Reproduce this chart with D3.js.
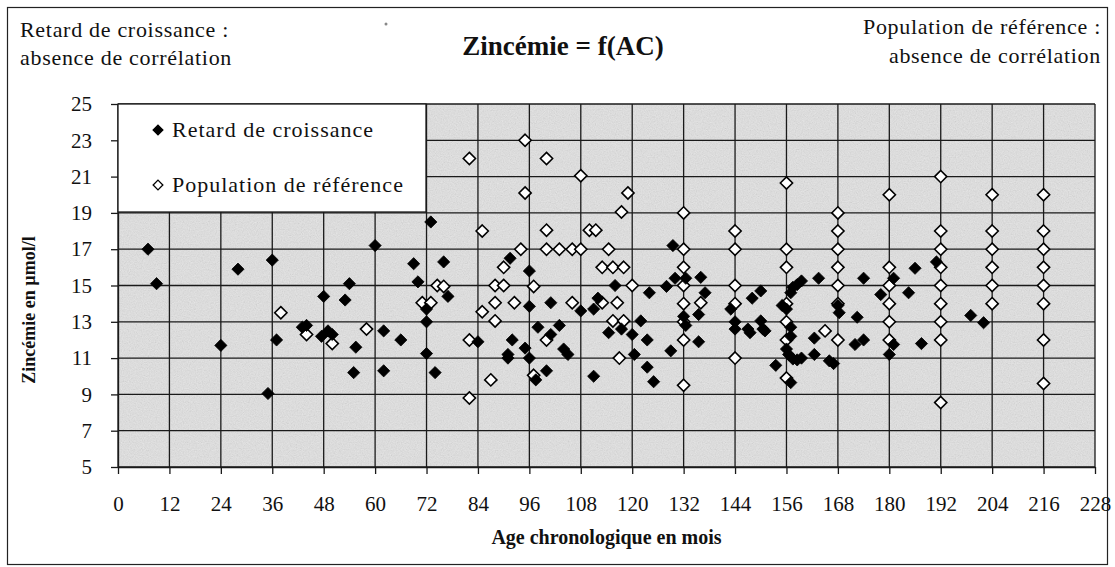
<!DOCTYPE html>
<html>
<head>
<meta charset="utf-8">
<script src="https://cdn.jsdelivr.net/npm/d3@7"></script>
<style>
  body { margin: 0; background: #fff; }
  svg text { font-family: "Liberation Serif", "Times New Roman", serif; fill: #111; }
</style>
</head>
<body>
<div id="chart"></div>
<script>
// growth retardation group (filled diamonds)
var retardAge = [7, 9, 24, 28, 36, 37, 35, 43, 44, 48, 47.5, 49, 50, 53, 54, 55.5, 55,
  60, 62, 62, 66, 69, 70, 72, 72, 72, 73, 74, 76, 77, 84, 91.5, 92, 91, 91, 96, 96, 95, 96, 97.5,
  98, 101, 101, 100, 103, 104, 105, 108, 111, 111, 112,
  116, 114.5, 117.5, 120, 120.5, 122, 123.5, 123.5, 125, 124, 128, 129.5, 129, 130, 132.5, 132, 132.5,
  136, 137, 135.5, 135.5, 143, 144, 144, 147, 147.5, 148, 150, 150, 150.5, 151, 153.5, 155, 156,
  157, 157.5, 158.5, 159.5, 157, 157, 156, 156.5, 157.5, 158.5, 159.5, 157, 162.5, 162.5, 163.5, 166, 167,
  168, 168.3, 174, 172.5, 172, 174, 178, 181, 181, 180, 184.5, 186, 187.5, 191, 199, 202];
var retardZinc = [17, 15.1, 11.7, 15.9, 16.4, 12, 9.05, 12.7, 12.8, 14.4, 12.2, 12.5, 12.3, 14.2, 15.1, 11.6, 10.2,
  17.2, 12.5, 10.3, 12, 16.2, 15.2, 13.7, 13, 11.25, 18.5, 10.2, 16.3, 14.4, 11.9, 16.5, 12, 11.2, 11, 15.8, 13.85, 11.55, 11, 9.8,
  12.7, 14.05, 12.3, 10.3, 12.8, 11.5, 11.2, 13.6, 13.7, 10, 14.3,
  15, 12.4, 12.6, 12.3, 11.2, 13.05, 12, 10.5, 9.7, 14.6, 14.95, 17.2, 11.4, 15.4, 15.4, 13.3, 12.8,
  15.45, 14.6, 13.4, 11.9, 13.7, 13, 12.6, 12.6, 12.4, 14.3, 14.7, 13.05, 12.6, 12.5, 10.6, 13.9, 13.7,
  14.6, 14.9, 15.05, 15.25, 12.7, 12.2, 11.5, 11.2, 10.95, 10.9, 11, 9.65, 12.1, 11.2, 15.4, 10.85, 10.7,
  13.9, 13.5, 15.4, 13.25, 11.75, 12, 14.5, 15.4, 11.75, 11.2, 14.6, 15.95, 11.8, 16.3, 13.35, 12.95];

// reference population (open diamonds)
var refAge = [38, 44, 50, 58, 71, 73, 74.5, 76, 82, 82, 82, 85, 85, 87, 88, 88, 88, 90, 90, 92.5, 94, 95, 95,
  97, 97, 100, 100, 100, 100, 103, 106, 106, 108, 108, 110, 111.5, 113, 115.5, 118, 119, 117.5, 114.5,
  113, 116.5, 115.5, 118, 117, 120,
  132, 132, 132, 132, 132, 132, 132, 132, 136,
  144, 144, 144, 144, 144,
  156, 156, 156, 156, 156, 156, 156, 165,
  168, 168, 168, 168, 168, 168, 168,
  180, 180, 180, 180, 180, 180,
  192, 192, 192, 192, 192, 192, 192, 192, 192,
  204, 204, 204, 204, 204, 204,
  216, 216, 216, 216, 216, 216, 216, 216];
var refZinc = [13.5, 12.3, 11.8, 12.6, 14.05, 14.05, 15, 14.95, 22, 12, 8.8, 18, 13.55, 9.8, 15, 14.05, 13.05, 16, 15, 14.05, 17, 23, 20.1,
  14.95, 10.05, 22, 18.05, 17, 12, 17, 17, 14.05, 21.05, 17, 18.05, 18.05, 16, 16, 16, 20.1, 19.05, 17,
  14.05, 14.05, 13.05, 13.05, 11, 15,
  19, 17, 16, 15, 14, 13, 12, 9.5, 14.05,
  18, 17, 15, 14, 11,
  20.65, 17, 16, 14, 13, 12, 9.9, 12.5,
  19, 18, 17, 16, 15, 14, 12,
  20, 16, 15, 14, 13, 12,
  21, 18, 17, 16, 15, 14, 13, 12, 8.55,
  20, 18, 17, 16, 15, 14,
  20, 18, 17, 16, 15, 14, 12, 9.6];

var xTicks = [0, 12, 24, 36, 48, 60, 72, 84, 96, 108, 120, 132, 144, 156, 168, 180, 192, 204, 216, 228];
var yTicks = [5, 7, 9, 11, 13, 15, 17, 19, 21, 23, 25];
var legendLabels = ["Retard de croissance", "Population de référence"];

var W = 1115, H = 567;
var PLOT = {left: 118, right: 1095, top: 104, bottom: 467};

var svg = d3.select("#chart").append("svg")
  .attr("width", W).attr("height", H)
  .attr("font-family", "'Liberation Serif', serif");

// grain for the scanned grey background
var defs = svg.append("defs");
var grain = defs.append("filter").attr("id", "grain")
  .attr("x", 0).attr("y", 0).attr("width", "100%").attr("height", "100%");
grain.append("feTurbulence").attr("type", "fractalNoise")
  .attr("baseFrequency", 0.85).attr("numOctaves", 2).attr("seed", 4);
grain.append("feColorMatrix").attr("type", "matrix")
  .attr("values", "0.33 0.33 0.33 0 0  0.33 0.33 0.33 0 0  0.33 0.33 0.33 0 0  0 0 0 0 0.24");

// outer frame
svg.append("rect")
  .attr("x", 7.5).attr("y", 7.5).attr("width", 1100).attr("height", 557)
  .attr("fill", "#fff").attr("stroke", "#222").attr("stroke-width", 1.2);

var x = d3.scaleLinear().domain([0, 228]).range([PLOT.left, PLOT.right]);
var y = d3.scaleLinear().domain([5, 25]).range([PLOT.bottom, PLOT.top]);

var g = svg.append("g");

g.append("rect")
  .attr("x", PLOT.left).attr("y", PLOT.top)
  .attr("width", PLOT.right - PLOT.left).attr("height", PLOT.bottom - PLOT.top)
  .attr("fill", "#e6e6e6");
g.append("rect")
  .attr("x", PLOT.left).attr("y", PLOT.top)
  .attr("width", PLOT.right - PLOT.left).attr("height", PLOT.bottom - PLOT.top)
  .attr("filter", "url(#grain)");

// grid
g.selectAll(".vgrid").data(xTicks).enter().append("line")
  .attr("class", "vgrid")
  .attr("x1", function(d) { return x(d); }).attr("x2", function(d) { return x(d); })
  .attr("y1", PLOT.top).attr("y2", PLOT.bottom)
  .attr("stroke", "#1a1a1a").attr("stroke-width", 1.3);
g.selectAll(".hgrid").data(yTicks).enter().append("line")
  .attr("class", "hgrid")
  .attr("x1", PLOT.left).attr("x2", PLOT.right)
  .attr("y1", function(d) { return y(d); }).attr("y2", function(d) { return y(d); })
  .attr("stroke", "#1a1a1a").attr("stroke-width", 1.3);

// axes
var xAxis = g.append("g")
  .attr("transform", "translate(0," + PLOT.bottom + ")")
  .call(d3.axisBottom(x).tickValues(xTicks).tickSize(7).tickSizeOuter(0).tickPadding(22));
var yAxis = g.append("g")
  .attr("transform", "translate(" + PLOT.left + ",0)")
  .call(d3.axisLeft(y).tickValues(yTicks).tickSize(7).tickSizeOuter(0).tickPadding(19));
[xAxis, yAxis].forEach(function(a) {
  a.attr("font-family", "'Liberation Serif', serif");
  a.select(".domain").attr("stroke", "#1a1a1a").attr("stroke-width", 1.3);
  a.selectAll(".tick line").attr("stroke", "#1a1a1a").attr("stroke-width", 1.3);
  a.selectAll(".tick text")
    .style("font-family", "'Liberation Serif', serif")
    .style("font-size", "21px").attr("fill", "#111");
});

var diamond = d3.symbol().type(d3.symbolDiamond2).size(95);

// legend box (sits on top of the grid, top-left corner of the plot)
var legend = g.append("g");
legend.append("rect")
  .attr("x", PLOT.left).attr("y", PLOT.top).attr("width", 308).attr("height", 108)
  .attr("fill", "#fff").attr("stroke", "#1a1a1a").attr("stroke-width", 1.3);
legendLabels.forEach(function(sLabel, i) {
  var ly = 130 + i * 55;
  legend.append("path")
    .attr("d", d3.symbol().type(d3.symbolDiamond2).size(60)())
    .attr("transform", "translate(158," + ly + ")")
    .attr("fill", i === 0 ? "#000" : "#fff")
    .attr("stroke", "#000").attr("stroke-width", 1.3);
  legend.append("text")
    .attr("x", 172).attr("y", ly + 7)
    .style("font-size", "22px").style("letter-spacing", "1px")
    .text(sLabel);
});

// points
var refPts = refAge.map(function(a, i) { return [a, refZinc[i]]; });
var retPts = retardAge.map(function(a, i) { return [a, retardZinc[i]]; });

g.selectAll(".ref").data(refPts).enter().append("path")
  .attr("class", "ref")
  .attr("d", diamond)
  .attr("transform", function(d) { return "translate(" + x(d[0]) + "," + y(d[1]) + ")"; })
  .attr("fill", "#fff").attr("stroke", "#000").attr("stroke-width", 1.6);

g.selectAll(".ret").data(retPts).enter().append("path")
  .attr("class", "ret")
  .attr("d", diamond)
  .attr("transform", function(d) { return "translate(" + x(d[0]) + "," + y(d[1]) + ")"; })
  .attr("fill", "#000").attr("stroke", "#000").attr("stroke-width", 0.8);

// titles
svg.append("text").attr("x", 563).attr("y", 55).attr("text-anchor", "middle")
  .style("font-size", "27px").style("font-weight", "bold").text("Zincémie = f(AC)");

svg.append("text").attr("x", 20).attr("y", 37)
  .style("font-size", "22px").style("letter-spacing", "0.7px").text("Retard de croissance :");
svg.append("text").attr("x", 20).attr("y", 65)
  .style("font-size", "22px").style("letter-spacing", "0.7px").text("absence de corrélation");

svg.append("text").attr("x", 1101).attr("y", 34).attr("text-anchor", "end")
  .style("font-size", "22px").style("letter-spacing", "0.7px").text("Population de référence :");
svg.append("text").attr("x", 1101).attr("y", 63).attr("text-anchor", "end")
  .style("font-size", "22px").style("letter-spacing", "0.7px").text("absence de corrélation");

svg.append("text").attr("x", (PLOT.left + PLOT.right) / 2).attr("y", 544)
  .attr("text-anchor", "middle")
  .style("font-size", "20px").style("font-weight", "bold").text("Age chronologique en mois");

svg.append("text")
  .attr("transform", "translate(35,310) rotate(-90)")
  .attr("text-anchor", "middle")
  .style("font-size", "18px").style("font-weight", "bold").text("Zincémie en µmol/l");

// speck from the scan
svg.append("circle").attr("cx", 386).attr("cy", 24).attr("r", 1.5).attr("fill", "#888");
</script>
</body>
</html>
